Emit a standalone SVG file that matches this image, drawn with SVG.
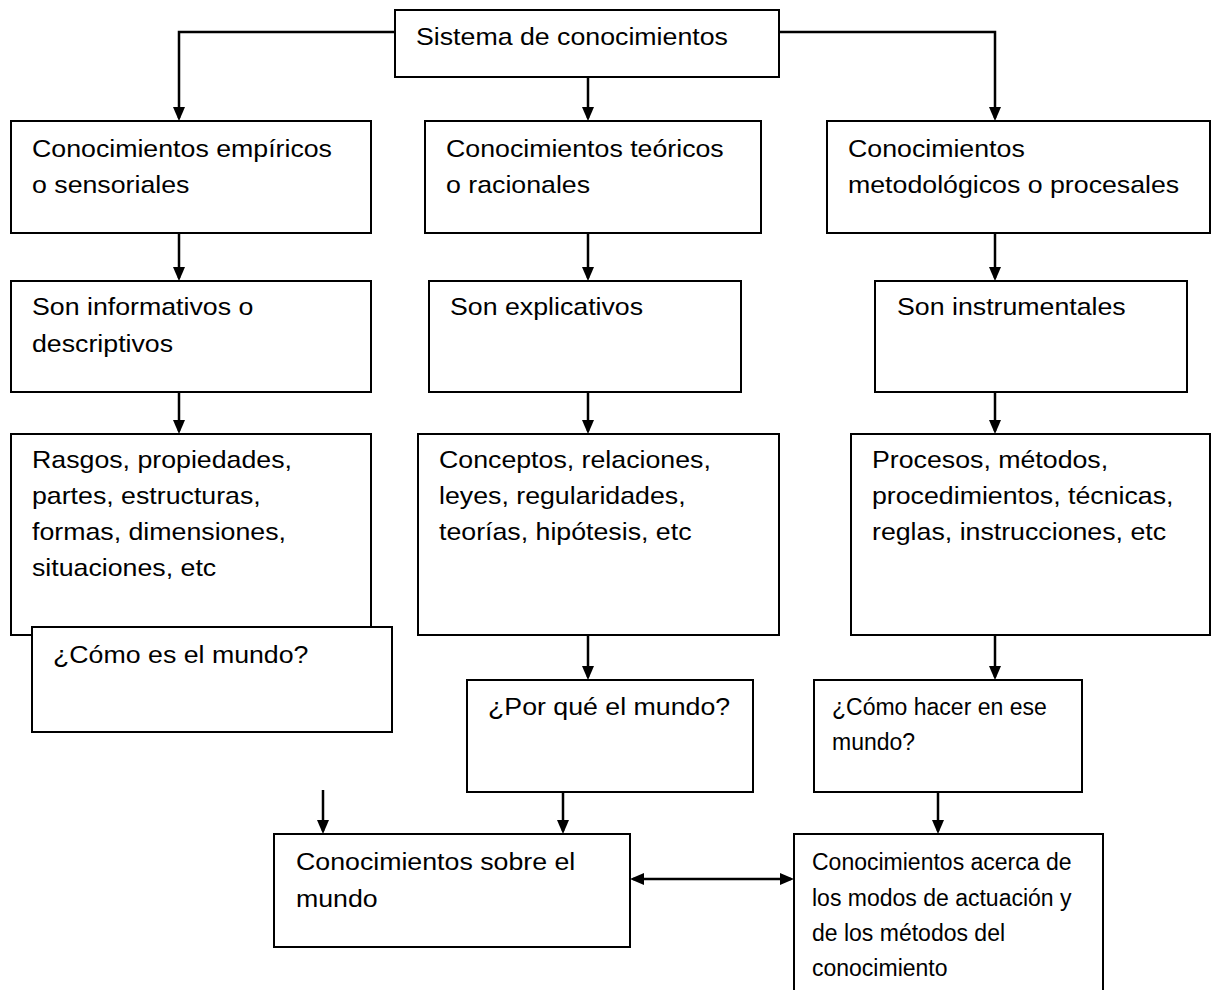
<svg xmlns="http://www.w3.org/2000/svg" width="1211" height="990" viewBox="0 0 1211 990">
<style>
.box{fill:#fff;stroke:#000;stroke-width:2}
.t{font-family:"Liberation Sans",Arial,sans-serif;font-size:24px;fill:#000}
.n{font-family:"Liberation Sans",Arial,sans-serif;font-size:23px;fill:#000}
.c{fill:none;stroke:#000;stroke-width:2.5}
</style>
<defs>
<marker id="ah" markerUnits="userSpaceOnUse" viewBox="0 0 14 12" refX="11" refY="6" markerWidth="14" markerHeight="12" orient="auto-start-reverse">
<path d="M0,0 L14,6 L0,12 z" fill="#000"/>
</marker>
</defs>
<rect width="1211" height="990" fill="#fff"/>

<g id="connectors">
<path class="c" d="M395,32 H179 V118" marker-end="url(#ah)"/>
<path class="c" d="M779,32 H995 V118" marker-end="url(#ah)"/>
<path class="c" d="M588,77 V118" marker-end="url(#ah)"/>
<path class="c" d="M179,233 V278" marker-end="url(#ah)"/>
<path class="c" d="M588,233 V278" marker-end="url(#ah)"/>
<path class="c" d="M995,233 V278" marker-end="url(#ah)"/>
<path class="c" d="M179,392 V431" marker-end="url(#ah)"/>
<path class="c" d="M588,392 V431" marker-end="url(#ah)"/>
<path class="c" d="M995,392 V431" marker-end="url(#ah)"/>
<path class="c" d="M588,635 V677" marker-end="url(#ah)"/>
<path class="c" d="M995,635 V677" marker-end="url(#ah)"/>
<path class="c" d="M323,790 V831" marker-end="url(#ah)"/>
<path class="c" d="M563,792 V831" marker-end="url(#ah)"/>
<path class="c" d="M938,792 V831" marker-end="url(#ah)"/>
<path class="c" d="M633,879 H791" marker-start="url(#ah)" marker-end="url(#ah)"/>
</g>

<g id="n-sistema">
<rect class="box" x="395" y="10" width="384" height="67"/>
<text class="t" transform="translate(416,45) scale(1.114,1)">Sistema de conocimientos</text>
</g>

<g id="n-empiricos">
<rect class="box" x="11" y="121" width="360" height="112"/>
<text class="t" transform="translate(32,157) scale(1.114,1)"><tspan x="0" y="0">Conocimientos empíricos</tspan><tspan x="0" y="36">o sensoriales</tspan></text>
</g>
<g id="n-teoricos">
<rect class="box" x="425" y="121" width="336" height="112"/>
<text class="t" transform="translate(446,157) scale(1.114,1)"><tspan x="0" y="0">Conocimientos teóricos</tspan><tspan x="0" y="36">o racionales</tspan></text>
</g>
<g id="n-metodologicos">
<rect class="box" x="827" y="121" width="383" height="112"/>
<text class="t" transform="translate(848,157) scale(1.114,1)"><tspan x="0" y="0">Conocimientos</tspan><tspan x="0" y="36">metodológicos o procesales</tspan></text>
</g>

<g id="n-informativos">
<rect class="box" x="11" y="281" width="360" height="111"/>
<text class="t" transform="translate(32,315) scale(1.114,1)"><tspan x="0" y="0">Son informativos o</tspan><tspan x="0" y="37">descriptivos</tspan></text>
</g>
<g id="n-explicativos">
<rect class="box" x="429" y="281" width="312" height="111"/>
<text class="t" transform="translate(450,315) scale(1.114,1)">Son explicativos</text>
</g>
<g id="n-instrumentales">
<rect class="box" x="875" y="281" width="312" height="111"/>
<text class="t" transform="translate(897,315) scale(1.114,1)">Son instrumentales</text>
</g>

<g id="n-rasgos">
<rect class="box" x="11" y="434" width="360" height="201"/>
<text class="t" transform="translate(32,468) scale(1.114,1)"><tspan x="0" y="0">Rasgos, propiedades,</tspan><tspan x="0" y="36">partes, estructuras,</tspan><tspan x="0" y="72">formas, dimensiones,</tspan><tspan x="0" y="108">situaciones, etc</tspan></text>
</g>
<g id="n-conceptos">
<rect class="box" x="418" y="434" width="361" height="201"/>
<text class="t" transform="translate(439,468) scale(1.114,1)"><tspan x="0" y="0">Conceptos, relaciones,</tspan><tspan x="0" y="36">leyes, regularidades,</tspan><tspan x="0" y="72">teorías, hipótesis, etc</tspan></text>
</g>
<g id="n-procesos">
<rect class="box" x="851" y="434" width="359" height="201"/>
<text class="t" transform="translate(872,468) scale(1.114,1)"><tspan x="0" y="0">Procesos, métodos,</tspan><tspan x="0" y="36">procedimientos, técnicas,</tspan><tspan x="0" y="72">reglas, instrucciones, etc</tspan></text>
</g>

<g id="n-como-es">
<rect class="box" x="32" y="627" width="360" height="105"/>
<text class="t" transform="translate(53,663) scale(1.114,1)">¿Cómo es el mundo?</text>
</g>
<g id="n-por-que">
<rect class="box" x="467" y="680" width="286" height="112"/>
<text class="t" transform="translate(488,715) scale(1.114,1)">¿Por qué el mundo?</text>
</g>
<g id="n-como-hacer">
<rect class="box" x="814" y="680" width="268" height="112"/>
<text class="n" x="832" y="715">¿Cómo hacer en ese</text>
<text class="n" x="832" y="750">mundo?</text>
</g>

<g id="n-sobre-mundo">
<rect class="box" x="274" y="834" width="356" height="113"/>
<text class="t" transform="translate(296,870) scale(1.114,1)"><tspan x="0" y="0">Conocimientos sobre el</tspan><tspan x="0" y="37">mundo</tspan></text>
</g>
<g id="n-acerca">
<rect class="box" x="794" y="834" width="309" height="170"/>
<text class="n" x="812" y="870">Conocimientos acerca de</text>
<text class="n" x="812" y="906">los modos de actuación y</text>
<text class="n" x="812" y="941">de los métodos del</text>
<text class="n" x="812" y="976">conocimiento</text>
</g>
</svg>
